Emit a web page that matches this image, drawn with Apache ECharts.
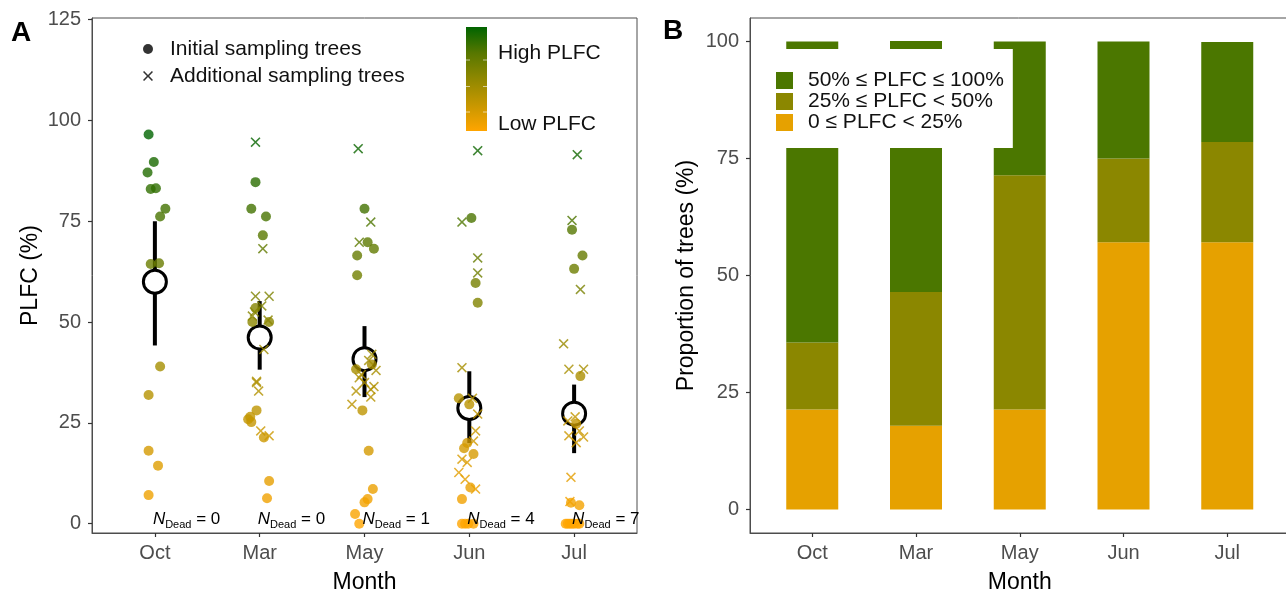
<!DOCTYPE html>
<html>
<head>
<meta charset="utf-8">
<script src="https://cdn.jsdelivr.net/npm/echarts@6/dist/echarts.min.js"></script>
<style>
  html, body { margin: 0; padding: 0; background: #fff; }
  #chart { width: 1286px; height: 596px; }
</style>
</head>
<body>
<div id="chart"></div>
<script>
// Sampling months (x categories of both panels)
const months = ['Oct', 'Mar', 'May', 'Jun', 'Jul'];
const yTicksA = [0, 25, 50, 75, 100, 125];
const yTicksB = [0, 25, 50, 75, 100];

// Initial sampling trees: [month index, jitter, PLFC %]
const initialTrees = [
  [0,-0.06,96.5],[0,-0.01,89.7],[0,-0.07,87.1],[0,-0.04,83.0],[0,0.01,83.2],[0,0.10,78.1],[0,0.05,76.2],
  [0,-0.04,64.4],[0,0.04,64.6],[0,0.05,39.0],[0,-0.06,31.9],[0,-0.06,18.1],[0,0.03,14.4],[0,-0.06,7.1],
  [1,-0.04,84.7],[1,-0.08,78.1],[1,0.06,76.2],[1,0.03,71.5],[1,-0.04,53.5],[1,-0.07,50.0],[1,0.09,50.0],
  [1,-0.03,28.1],[1,-0.11,25.9],[1,-0.09,26.5],[1,-0.08,25.2],[1,0.04,21.4],[1,0.09,10.6],[1,0.07,6.3],
  [2,0.00,78.1],[2,0.03,69.8],[2,0.09,68.2],[2,-0.07,66.5],[2,-0.07,61.6],[2,0.07,39.5],[2,-0.08,38.3],
  [2,-0.02,28.1],[2,0.04,18.1],[2,0.08,8.6],[2,0.03,6.1],[2,0.00,5.3],[2,-0.09,2.4],[2,-0.05,0],
  [3,0.02,75.8],[3,0.06,59.7],[3,0.08,54.8],[3,-0.10,31.1],[3,0.00,29.6],[3,-0.02,20.0],[3,-0.05,18.7],
  [3,0.04,17.3],[3,0.01,9.0],[3,-0.07,6.1],[3,-0.07,0],[3,-0.04,0],[3,-0.01,0],[3,0.04,0],
  [4,-0.02,72.9],[4,0.08,66.5],[4,0.00,63.2],[4,0.06,36.6],[4,0.02,24.8],[4,-0.03,5.2],[4,0.05,4.6],
  [4,-0.08,0],[4,-0.06,0],[4,-0.04,0],[4,-0.02,0],[4,0.00,0],[4,0.03,0],[4,0.05,0]
];

// Additional sampling trees: [month index, jitter, PLFC %]
const additionalTrees = [
  [1,-0.04,94.6],[1,0.03,68.2],[1,-0.04,56.4],[1,0.09,56.4],[1,-0.07,51.5],[1,0.08,50.5],[1,-0.05,52.5],
  [1,0.02,54.0],[1,0.04,43.2],[1,-0.03,35.3],[1,-0.03,35.0],[1,-0.01,32.9],[1,0.01,23.0],[1,0.09,21.8],
  [2,-0.06,93.0],[2,0.06,74.8],[2,-0.05,69.8],[2,0.07,42.0],[2,0.11,38.0],[2,-0.05,36.2],[2,0.00,35.0],
  [2,-0.08,32.9],[2,0.06,33.3],[2,0.06,31.4],[2,-0.12,29.6],[2,0.04,40.5],[2,-0.03,37.0],[2,0.09,34.0],
  [3,0.08,92.5],[3,-0.07,74.8],[3,0.08,65.9],[3,0.08,62.2],[3,-0.07,38.7],[3,0.03,31.1],[3,0.08,27.2],
  [3,0.04,20.5],[3,-0.07,16.0],[3,-0.02,15.2],[3,-0.10,12.7],[3,0.06,8.6],[3,-0.04,11.0],[3,0.06,23.0],
  [4,0.03,91.5],[4,-0.02,75.2],[4,0.06,58.1],[4,-0.10,44.6],[4,-0.05,38.3],[4,0.09,38.3],[4,0.01,26.5],
  [4,-0.06,25.5],[4,0.05,23.0],[4,-0.05,21.8],[4,0.09,21.5],[4,0.02,20.1],[4,-0.03,11.5],[4,-0.04,5.5]
];

// Monthly mean PLFC with its interval
const meanPLFC = [60.0, 46.2, 40.8, 28.7, 27.3];
const lowerPLFC = [44.2, 38.2, 31.4, 20.0, 17.5];
const upperPLFC = [75.0, 55.2, 49.0, 37.8, 34.5];
const deadCounts = [0, 0, 1, 4, 7];

// Share of trees in each PLFC class (%)
const lowShare  = [21.4, 17.9, 21.4, 57.1, 57.1];
const midShare  = [14.3, 28.6, 50.0, 17.9, 21.4];
const highShare = [64.3, 53.6, 28.6, 25.0, 21.4];
const classNames = ['0 ≤ PLFC < 25%', '25% ≤ PLFC < 50%', '50% ≤ PLFC ≤ 100%'];

const FONT = 'Liberation Sans, Arial, Helvetica, sans-serif';
const CROSS = 'path://M1.1,0L5,3.9L8.9,0L10,1.1L6.1,5L10,8.9L8.9,10L5,6.1L1.1,10L0,8.9L3.9,5L0,1.1Z';
const gradientStops = ['#FFA500', '#C79700', '#908800', '#577700', '#006400'];
const classColors = ['#e6a100', '#8b8700', '#4b7700'];
const tickPos = months.map((m, i) => i + 1);

const toPoint = r => [r[0] + 1 + r[1], r[2]];

function xAxisCfg(gridIndex) {
  return {
    type: 'value', gridIndex, min: 0.4, max: 5.6,
    name: 'Month', nameLocation: 'middle', nameGap: 38,
    nameTextStyle: { fontSize: 23, color: '#000', fontFamily: FONT },
    splitLine: { show: false },
    axisLine: { show: true, onZero: false, lineStyle: { color: '#4d4d4d', width: 1 } },
    axisTick: { show: true, customValues: tickPos, length: 4, lineStyle: { color: '#333', width: 1.2 } },
    axisLabel: { customValues: tickPos, margin: 10, fontSize: 20, color: '#4d4d4d', fontFamily: FONT,
      formatter: v => months[Math.round(v) - 1] }
  };
}

function yAxisCfg(gridIndex, min, max, ticks, name, gap) {
  return {
    type: 'value', gridIndex, min, max,
    name, nameLocation: 'middle', nameGap: gap,
    nameTextStyle: { fontSize: 23, color: '#000', fontFamily: FONT },
    splitLine: { show: false },
    axisLine: { show: true, onZero: false, lineStyle: { color: '#4d4d4d', width: 1 } },
    axisTick: { show: true, customValues: ticks, length: 4, lineStyle: { color: '#333', width: 1.2 } },
    axisLabel: { customValues: ticks, margin: 11, fontSize: 20, color: '#4d4d4d', fontFamily: FONT }
  };
}

const chart = echarts.init(document.getElementById('chart'), null, { renderer: 'canvas' });

const gridBase = { top: 18, height: 515, show: true, borderColor: '#4d4d4d', borderWidth: 1,
  backgroundColor: 'transparent', containLabel: false, outerBoundsMode: 'none' };

const option = {
  animation: false,
  backgroundColor: '#fff',
  textStyle: { fontFamily: FONT },
  grid: [
    Object.assign({ left: 92, width: 545 }, gridBase),
    Object.assign({ left: 750, width: 539.5 }, gridBase)
  ],
  xAxis: [xAxisCfg(0), xAxisCfg(1)],
  yAxis: [
    yAxisCfg(0, -2.3, 125.4, yTicksA, 'PLFC (%)', 50),
    yAxisCfg(1, -5, 105, yTicksB, 'Proportion of trees (%)', 52)
  ],
  visualMap: {
    type: 'continuous', show: false, min: 0, max: 96.5, dimension: 1,
    seriesIndex: [1, 2], inRange: { color: gradientStops }
  },
  legend: [
    {
      data: [
        { name: 'Initial sampling trees', icon: 'circle', itemStyle: { color: '#000' } },
        { name: 'Additional sampling trees', icon: CROSS, itemStyle: { color: '#000' } }
      ],
      orient: 'vertical', left: 138, top: 33, itemWidth: 10, itemHeight: 10, itemGap: 5,
      selectedMode: false,
      textStyle: { fontSize: 21, color: '#111', lineHeight: 22, padding: [0, 0, 0, 12], fontFamily: FONT }
    },
    {
      data: [classNames[2], classNames[1], classNames[0]].map(n => ({ name: n, icon: 'rect' })),
      orient: 'vertical', left: 768, top: 49, itemWidth: 17, itemHeight: 17, itemGap: 0,
      backgroundColor: '#fff', padding: [21, 9, 15, 8], selectedMode: false,
      textStyle: { fontSize: 21, color: '#111', lineHeight: 21, padding: [0, 0, 0, 10], fontFamily: FONT }
    }
  ],
  series: [
    {
      // mean PLFC with interval
      type: 'custom', xAxisIndex: 0, yAxisIndex: 0, z: 1, clip: false,
      data: meanPLFC.map((m, i) => [i + 1, m, lowerPLFC[i], upperPLFC[i]]),
      renderItem: (params, api) => {
        const x = api.value(0);
        const pLo = api.coord([x, api.value(2)]);
        const pHi = api.coord([x, api.value(3)]);
        const pM = api.coord([x, api.value(1)]);
        return {
          type: 'group',
          children: [
            { type: 'line', shape: { x1: pLo[0], y1: pLo[1], x2: pHi[0], y2: pHi[1] }, style: { stroke: '#000', lineWidth: 4 } },
            { type: 'circle', shape: { cx: pM[0], cy: pM[1], r: 11.5 }, style: { fill: '#fff', stroke: '#000', lineWidth: 3 } }
          ]
        };
      }
    },
    {
      name: 'Initial sampling trees', type: 'scatter', xAxisIndex: 0, yAxisIndex: 0, z: 3,
      symbol: 'circle', symbolSize: 10,
      data: initialTrees.map(toPoint)
    },
    {
      name: 'Additional sampling trees', type: 'scatter', xAxisIndex: 0, yAxisIndex: 0, z: 3,
      symbol: CROSS, symbolSize: 10,
      data: additionalTrees.map(toPoint)
    },
    {
      // number of dead trees per month
      type: 'custom', xAxisIndex: 0, yAxisIndex: 0, z: 5, clip: false,
      data: deadCounts.map((n, i) => [i + 1, 0, n]),
      renderItem: (params, api) => {
        const p = api.coord([api.value(0), api.value(1)]);
        return {
          type: 'text', x: p[0] - 2, y: p[1] - 4,
          style: {
            text: '{n|N}{s|Dead}{e| = ' + api.value(2) + '}',
            align: 'left', verticalAlign: 'middle', fill: '#000',
            rich: {
              n: { fontSize: 17, fontStyle: 'italic', lineHeight: 22, fontFamily: FONT, fill: '#000' },
              s: { fontSize: 11, lineHeight: 8, verticalAlign: 'bottom', fontFamily: FONT, fill: '#000' },
              e: { fontSize: 17, lineHeight: 22, fontFamily: FONT, fill: '#000' }
            }
          }
        };
      }
    },
    // stacked class shares; value comes first so it is the stacked dimension
    ...[lowShare, midShare, highShare].map((vals, k) => ({
      name: classNames[k], type: 'bar', xAxisIndex: 1, yAxisIndex: 1, stack: 'share',
      barWidth: 52, itemStyle: { color: classColors[k] },
      encode: { x: 1, y: 0 },
      data: vals.map((v, i) => [v, i + 1])
    }))
  ],
  graphic: [
    { type: 'text', left: 11, top: 19, style: { text: 'A', font: 'bold 28px ' + FONT, fill: '#000' } },
    { type: 'text', left: 663, top: 17, style: { text: 'B', font: 'bold 28px ' + FONT, fill: '#000' } },
    {
      type: 'rect', left: 466, top: 27, shape: { width: 21, height: 104 },
      style: {
        fill: new echarts.graphic.LinearGradient(0, 0, 0, 1, [
          { offset: 0, color: gradientStops[4] },
          { offset: 0.25, color: gradientStops[3] },
          { offset: 0.5, color: gradientStops[2] },
          { offset: 0.75, color: gradientStops[1] },
          { offset: 1, color: gradientStops[0] }
        ])
      }
    },
    ...[60, 86.5, 112].flatMap(y => [
      { type: 'line', shape: { x1: 466, y1: y, x2: 470, y2: y }, style: { stroke: 'rgba(255,255,255,0.6)', lineWidth: 1 } },
      { type: 'line', shape: { x1: 483, y1: y, x2: 487, y2: y }, style: { stroke: 'rgba(255,255,255,0.6)', lineWidth: 1 } }
    ]),
    { type: 'text', left: 498, top: 43, style: { text: 'High PLFC', font: '21px ' + FONT, fill: '#111' } },
    { type: 'text', left: 498, top: 114, style: { text: 'Low PLFC', font: '21px ' + FONT, fill: '#111' } }
  ]
};

chart.setOption(option);
</script>
</body>
</html>
